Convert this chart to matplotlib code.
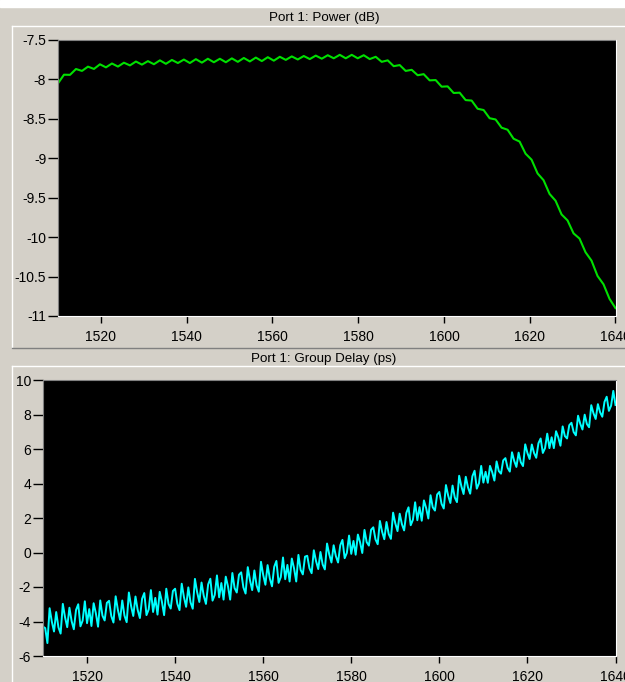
import numpy as np
import matplotlib.pyplot as plt
from matplotlib.lines import Line2D
from matplotlib.patches import Rectangle
from matplotlib.ticker import FuncFormatter

plt.rcParams['font.family'] = ['Liberation Sans', 'DejaVu Sans']
plt.rcParams['axes.unicode_minus'] = False

W, H = 625, 682
bg = '#d4d0c8'

# Port 1 power (dB) (ripple peaks / troughs)
wl_power = np.linspace(1510, 1640, 94)
power_db = [
    -8.05, -7.94, -7.942, -7.868, -7.892, -7.838, -7.867, -7.808, -7.847, -7.798,
    -7.837, -7.788, -7.822, -7.773, -7.812, -7.768, -7.807, -7.758, -7.802, -7.753,
    -7.792, -7.748, -7.792, -7.743, -7.787, -7.738, -7.782, -7.738, -7.782, -7.733,
    -7.777, -7.728, -7.772, -7.723, -7.767, -7.718, -7.762, -7.713, -7.752, -7.708,
    -7.747, -7.703, -7.742, -7.698, -7.737, -7.693, -7.732, -7.688, -7.732, -7.688,
    -7.732, -7.693, -7.742, -7.713, -7.777, -7.758, -7.832, -7.818, -7.892, -7.878,
    -7.947, -7.933, -8.012, -8.008, -8.092, -8.088, -8.172, -8.168, -8.262, -8.268,
    -8.372, -8.388, -8.492, -8.508, -8.612, -8.638, -8.752, -8.788, -8.942, -9.018,
    -9.192, -9.278, -9.452, -9.538, -9.712, -9.788, -9.952, -10.018, -10.192, -10.298,
    -10.492, -10.598, -10.782, -10.90,
]

# Port 1 group delay (ps), 0.5 nm steps
wl_delay = np.linspace(1510, 1640, 261)
delay_ps = [
    -4.30, -4.38, -5.25, -3.23, -4.00, -4.58, -3.45, -4.33, -4.70, -2.98,
    -3.75, -4.33, -3.20, -3.98, -4.45, -3.33, -3.00, -4.28, -3.95, -2.83,
    -4.10, -3.28, -4.26, -2.94, -3.52, -4.30, -2.78, -3.66, -3.94, -2.92,
    -2.80, -3.68, -4.06, -2.54, -3.32, -3.90, -2.78, -3.66, -4.04, -2.32,
    -3.10, -3.68, -2.55, -3.33, -3.80, -2.68, -2.35, -3.63, -3.30, -2.18,
    -3.45, -2.63, -3.60, -2.28, -2.85, -3.63, -2.10, -2.98, -3.25, -2.23,
    -2.10, -2.97, -3.34, -1.81, -2.58, -3.15, -2.02, -2.89, -3.26, -1.53,
    -2.30, -2.87, -1.74, -2.51, -2.98, -1.85, -1.52, -2.79, -2.46, -1.33,
    -2.60, -1.77, -2.73, -1.40, -1.96, -2.73, -1.19, -2.06, -2.32, -1.29,
    -1.15, -2.02, -2.38, -0.85, -1.61, -2.18, -1.04, -1.91, -2.27, -0.54,
    -1.30, -1.87, -0.73, -1.50, -1.96, -0.83, -0.49, -1.76, -1.42, -0.29,
    -1.55, -0.72, -1.68, -0.35, -0.91, -1.68, -0.14, -1.01, -1.27, -0.24,
    -0.19, -0.91, -1.20, 0.13, -0.50, -0.96, 0.03, -0.69, -0.98, 0.52,
    -0.11, -0.58, 0.42, -0.21, -0.58, 0.42, 0.73, -0.33, -0.02, 0.98,
    -0.08, 0.67, -0.13, 1.04, 0.59, -0.03, 1.31, 0.60, 0.40, 1.32,
    1.46, 0.76, 0.48, 1.83, 1.21, 0.77, 1.77, 1.07, 0.79, 2.31,
    1.69, 1.24, 2.25, 1.64, 1.28, 2.29, 2.62, 1.58, 1.90, 2.91,
    1.87, 2.63, 1.84, 3.02, 2.58, 1.97, 3.32, 2.62, 2.43, 3.36,
    3.51, 2.82, 2.55, 3.91, 3.30, 2.87, 3.88, 3.19, 2.92, 4.45,
    3.84, 3.39, 4.39, 3.78, 3.41, 4.42, 4.74, 3.70, 4.01, 5.02,
    4.05, 4.68, 4.04, 5.02, 4.66, 4.17, 5.28, 4.72, 4.57, 5.34,
    5.47, 4.91, 4.69, 5.81, 5.31, 4.96, 5.79, 5.23, 5.01, 6.27,
    5.77, 5.42, 6.26, 5.77, 5.49, 6.33, 6.61, 5.77, 6.05, 6.89,
    6.05, 6.68, 6.05, 7.03, 6.68, 6.19, 7.31, 6.75, 6.61, 7.38,
    7.52, 6.98, 6.79, 7.93, 7.46, 7.13, 7.99, 7.45, 7.26, 8.54,
    8.07, 7.74, 8.60, 8.13, 7.87, 8.73, 9.03, 8.21, 8.51, 9.37,
    8.55,
]

wl_ticks = [1520, 1540, 1560, 1580, 1600, 1620, 1640]
power_ticks = [-7.5, -8, -8.5, -9, -9.5, -10, -10.5, -11]
delay_ticks = [10, 8, 6, 4, 2, 0, -2, -4, -6]


def rect(x0, y0, x1, y1):
    return [x0 / W, 1 - y1 / H, (x1 - x0) / W, (y1 - y0) / H]


fig = plt.figure(figsize=(W / 100, H / 100), dpi=100, facecolor=bg)

# window chrome
fig.add_artist(Rectangle((0, 1 - 7 / H), 1, 7 / H, transform=fig.transFigure,
                         color='white', zorder=0))
for y in (26, 366):
    fig.add_artist(Line2D([12 / W, 1], [1 - y / H] * 2, color='white', lw=1))
fig.add_artist(Line2D([12 / W] * 2, [1 - 26 / H, 1 - 348 / H], color='white', lw=1))
fig.add_artist(Line2D([12 / W] * 2, [1 - 366 / H, 0], color='white', lw=1))
fig.add_artist(Line2D([12 / W, 1], [1 - 348 / H] * 2, color='#808080', lw=1))

ax1 = fig.add_axes(rect(58, 40, 615.5, 316))
ax2 = fig.add_axes(rect(43, 380, 615.5, 656))

ax1.plot(wl_power, power_db, color='#00e000', lw=1.5)
ax1.set_ylim(-11, -7.5)
ax1.set_yticks(power_ticks)

ax2.plot(wl_delay, delay_ps, color='#00ffff', lw=1.4)
ax2.set_ylim(-6, 10)
ax2.set_yticks(delay_ticks)

fmt = FuncFormatter(lambda v, p: '{:g}'.format(v))
for ax in (ax1, ax2):
    ax.set_facecolor('black')
    ax.set_xlim(1510, 1640)
    ax.set_xticks(wl_ticks)
    ax.yaxis.set_major_formatter(fmt)
    ax.tick_params(axis='x', direction='out', length=5, width=1, pad=5,
                   labelsize=10, colors='black')
    ax.tick_params(axis='y', direction='out', length=7, width=1, pad=1.5,
                   labelsize=10, colors='black')
    ax.spines['top'].set_color('#808080')
    ax.spines['left'].set_color('#808080')
    ax.spines['right'].set_color('white')
    ax.spines['bottom'].set_color('white')

fig.text(324 / W, 1 - 18 / H, 'Port 1: Power (dB)', ha='center', va='center',
         fontsize=9.6)
fig.text(324 / W, 1 - 359 / H, 'Port 1: Group Delay (ps)', ha='center',
         va='center', fontsize=9.6)

fig.savefig('out.png', dpi=100, facecolor=bg)
